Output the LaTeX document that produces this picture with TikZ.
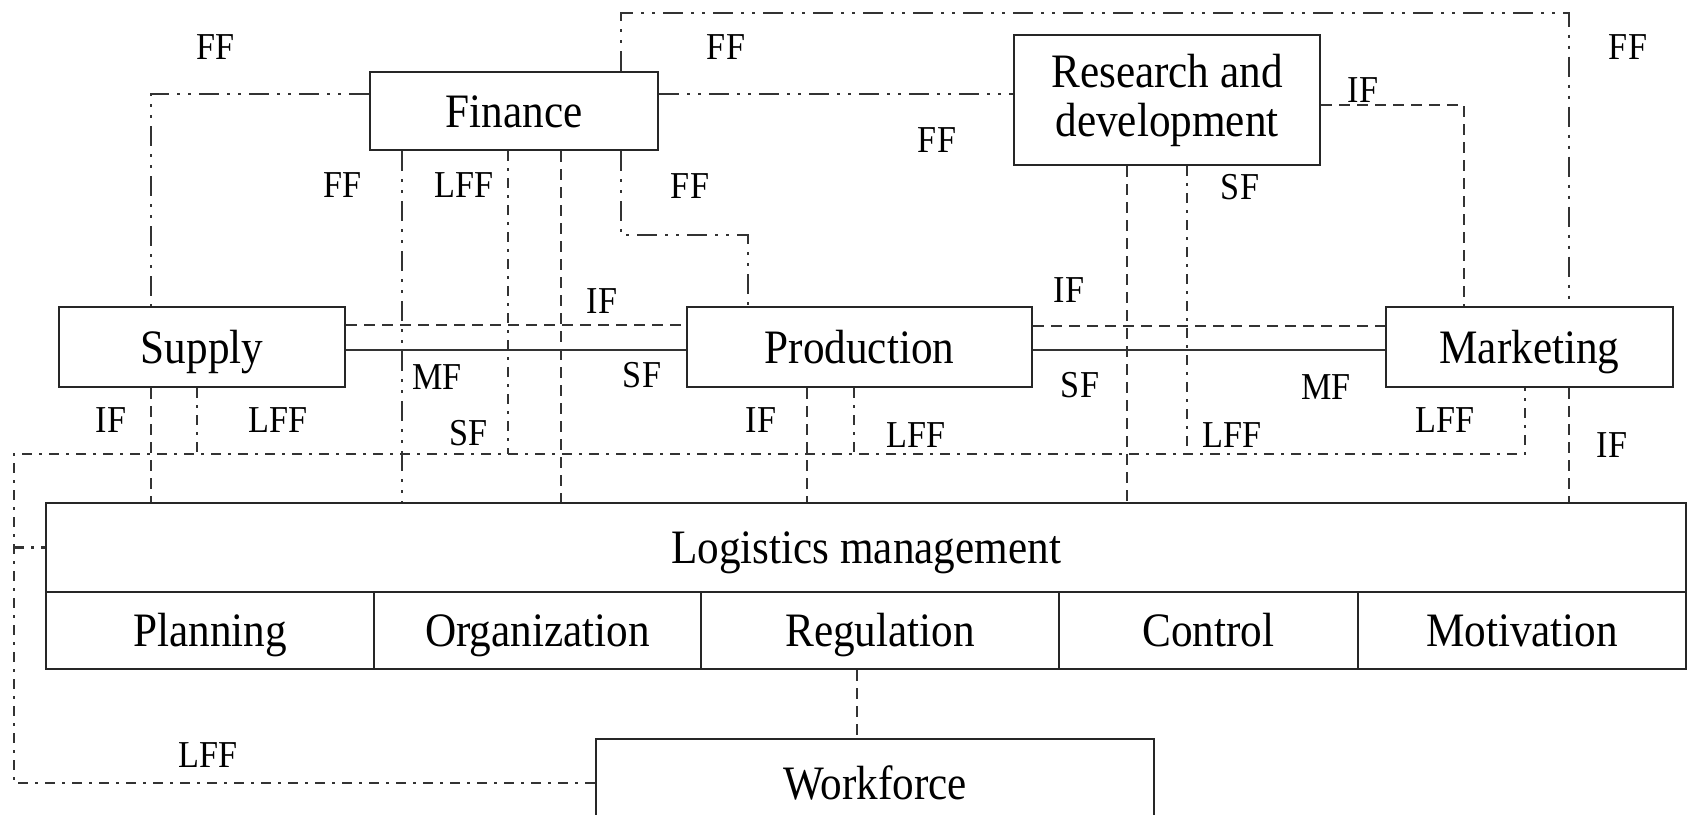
\documentclass[tikz,border=0pt]{standalone}
\usepackage{fontspec}
\setmainfont{Liberation Serif}[FakeStretch=0.9]

\begin{document}
\begin{tikzpicture}[x=1pt, y=-1pt,
	box/.style={fill=white, draw=black!85, line width=2.6pt, inner sep=0pt, text height=34pt, text depth=2pt, font=\fontsize{48}{49}\selectfont},
	lbl/.style={inner sep=0pt, font=\fontsize{38}{40}\selectfont},
	ff/.style={draw=black!80, line width=2.2pt, dash pattern=on 20pt off 8pt on 3pt off 8pt on 3pt off 8pt},
	lff/.style={draw=black!80, line width=2.2pt, dash pattern=on 10pt off 7pt on 3pt off 7pt},
	inf/.style={draw=black!80, line width=2.2pt, dash pattern=on 11pt off 7pt},
	mf/.style={draw=black!80, line width=2.2pt}]
	\useasboundingbox (0,0) rectangle (1692,814);

	\node [box, minimum width=288pt, minimum height=78pt] (fin) at (514,111) {Finance};
	\node [box, minimum width=306pt, minimum height=130pt, text height=, text depth=, align=center] (rd) at (1167,100) {Research and\\development};
	
	\node [box, minimum width=286pt, minimum height=80pt] (sup) at (202,347) {Supply};
	\node [box, minimum width=345pt, minimum height=80pt] (pro) at (859.5,347) {Production};
	\node [box, minimum width=287pt, minimum height=80pt] (mkt) at (1529.5,347) {Marketing};
	
	\node [box, minimum width=1640pt, minimum height=89pt] (log) at (866,547.5) {Logistics management};
	\node [box, minimum width=328pt, minimum height=77pt] (plan) at (210,630.5) {Planning};
	\node [box, minimum width=327pt, minimum height=77pt] (org) at (537.5,630.5) {Organization};
	\node [box, minimum width=358pt, minimum height=77pt] (reg) at (880,630.5) {Regulation};
	\node [box, minimum width=299pt, minimum height=77pt] (ctl) at (1208.5,630.5) {Control};
	\node [box, minimum width=328pt, minimum height=77pt] (mot) at (1522,630.5) {Motivation};
	
	\node [box, minimum width=558pt, minimum height=88pt] (wf) at (875,783) {Workforce};
	
	% financial flows
	\draw [ff] (fin.west |- 0,94) -| (sup.north -| 151,0);
	\draw [ff] (fin.east |- 0,94) -- (rd.west |- 0,94);
	\draw [ff] (fin.north -| 621,0) -- ++(0,-58) -| (mkt.north -| 1569,0);
	\draw [ff] (fin.south -| 402,0) -- (log.north -| 402,0);
	\draw [ff] (fin.south -| 621,0) -- ++(0,84) -| (pro.north -| 748,0);
	
	% labour force flows
	\coordinate (busL) at (14,454);
	\coordinate (busR) at (1525,454);
	\draw [lff] (wf.west) -| (busL) -- (busR) -- (mkt.south -| busR);
	\draw [lff] (sup.south -| 197,0) -- (busL -| 197,0);
	\draw [lff] (fin.south -| 508,0) -- (busL -| 508,0);
	\draw [lff] (pro.south -| 854,0) -- (busL -| 854,0);
	\draw [lff] (rd.south -| 1187,0) -- (busL -| 1187,0);
	\draw [lff] (busL |- log.west) -- (log.west);
	
	% information flows
	\draw [inf] (sup.east |- 0,325) -- (pro.west |- 0,325);
	\draw [inf] (pro.east |- 0,326) -- (mkt.west |- 0,326);
	\draw [inf] (rd.east |- 0,105) -| (mkt.north -| 1464,0);
	\draw [inf] (sup.south -| 151,0) -- (log.north -| 151,0);
	\draw [inf] (fin.south -| 561,0) -- (log.north -| 561,0);
	\draw [inf] (pro.south -| 807,0) -- (log.north -| 807,0);
	\draw [inf] (rd.south -| 1127,0) -- (log.north -| 1127,0);
	\draw [inf] (mkt.south -| 1569,0) -- (log.north -| 1569,0);
	\draw [inf] (reg.south -| 857,0) -- (wf.north -| 857,0);
	
	% material and service flows
	\draw [mf] (sup.east |- 0,350) -- (pro.west |- 0,350);
	\draw [mf] (pro.east |- 0,350) -- (mkt.west |- 0,350);
	
	\node [lbl] (ff1) at (216,47) {FF};
	\node [lbl] (ff2) at (726,47) {FF};
	\node [lbl] (ff3) at (1628,47) {FF};
	\node [lbl] (if1) at (1363,90) {IF};
	\node [lbl] (ff4) at (937,140) {FF};
	\node [lbl] (ff5) at (343,185) {FF};
	\node [lbl] (lff1) at (464,185) {LFF};
	\node [lbl] (ff6) at (690,186) {FF};
	\node [lbl] (sf1) at (1240,187) {SF};
	\node [lbl] (if2) at (602,301) {IF};
	\node [lbl] (if3) at (1069,290) {IF};
	\node [lbl] (mf1) at (437,377) {MF};
	\node [lbl] (sf2) at (642,375) {SF};
	\node [lbl] (sf3) at (1080,385) {SF};
	\node [lbl] (mf2) at (1326,387) {MF};
	\node [lbl] (if4) at (111,420) {IF};
	\node [lbl] (lff2) at (278,420) {LFF};
	\node [lbl] (sf4) at (469,433) {SF};
	\node [lbl] (if5) at (761,420) {IF};
	\node [lbl] (lff3) at (916,435) {LFF};
	\node [lbl] (lff4) at (1232,435) {LFF};
	\node [lbl] (lff5) at (1445,420) {LFF};
	\node [lbl] (if6) at (1612,445) {IF};
	\node [lbl] (lff6) at (208,755) {LFF};
\end{tikzpicture}
\end{document}
